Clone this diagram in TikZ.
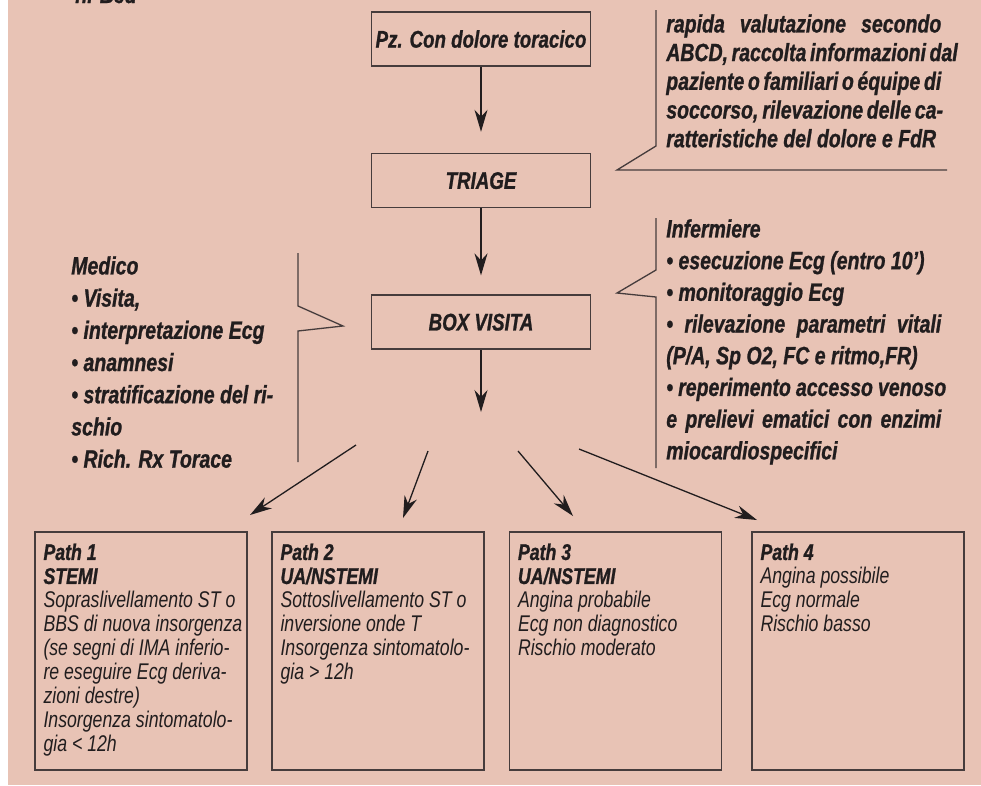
\documentclass[tikz,border=0pt]{standalone}
\usepackage{fontspec}
\setmainfont{Liberation Sans}[FakeStretch=0.78, BoldItalicFeatures={FakeBold=1.0}]
\usetikzlibrary{arrows.meta,positioning}

\definecolor{bgpink}{RGB}{232,195,181}
\definecolor{inkline}{RGB}{70,60,60}
\definecolor{inkdark}{RGB}{33,29,30}
\newcommand{\spreadline}[2][275pt]{\makebox[#1][s]{#2}}

\begin{document}
\begin{tikzpicture}[
    x = 1pt, y = -1pt, % one unit is one pixel, y going down
    > = {Stealth[length=22pt,width=13pt,inset=7pt]}, % arrow head style
    node distance = 86pt, % distance between the flow boxes
    semithick % line style
    ]

    \tikzset{
    flowbox/.style = {draw = inkline, line width = 1.6pt, minimum width = 219pt, minimum height = 54pt, inner sep = 0pt, text = inkdark, font = \fontsize{24}{28}\selectfont\bfseries\itshape},
    pathbox/.style = {draw = inkline, line width = 1.6pt, minimum width = 212pt, minimum height = 238pt, inner sep = 0pt},
    pathtext/.style = {anchor = north west, inner sep = 0pt, align = left, text = inkdark, font = \fontsize{22.7}{24}\selectfont\itshape},
    notetext/.style = {anchor = north west, inner sep = 0pt, align = left, text = inkdark, font = \fontsize{25}{#1}\selectfont\bfseries\itshape},
    notetext/.default = 30,
    noteline/.style = {draw = inkline, line width = 1.3pt},
    fanarrow/.style = {->, draw = inkdark, line width = 1.3pt}
    }

    % page
    \useasboundingbox (0,0) rectangle (981,785);
    \fill[bgpink] (8,0) rectangle (981,785);
    \node[notetext, anchor = base west] (cut) at (75,3) {n. Bed};

    % flow boxes
    \node[flowbox] (pz) at (481,39) {Pz. Con dolore toracico};
    \node[flowbox] (triage) [below=of pz] {TRIAGE};
    \node[flowbox] (visita) [below=of triage] {BOX VISITA};
    \coordinate (split) at (481,412);

    \draw[fanarrow, shorten >=21pt] (pz) -- (triage);
    \draw[fanarrow, shorten >=19pt] (triage) -- (visita);
    \draw[fanarrow] (visita) -- (split);

    % callouts
    \draw[noteline] (656,10) -- (656,146) -- (617,170) -- (947,170);
    \draw[noteline] (656,218) -- (656,270) -- (617,293) -- (656,297) -- (656,468);
    \draw[noteline] (298,253) -- (298,306) -- (343,326) -- (298,331) -- (298,462);

    \node[notetext=28.7] (abcd) at (666,14) {\spreadline{rapida valutazione secondo}\\ \spreadline{ABCD, raccolta informazioni dal}\\ \spreadline{paziente o familiari o équipe di}\\ \spreadline{soccorso, rilevazione delle ca-}\\ ratteristiche del dolore e FdR};
    \node[notetext=31.7] (nurse) at (666,219) {Infermiere\\ \textbullet{} esecuzione Ecg (entro 10’)\\ \textbullet{} monitoraggio Ecg\\ \spreadline{\textbullet{} rilevazione parametri vitali}\\ (P/A, Sp O2, FC e ritmo,FR)\\ \spreadline[280pt]{\textbullet{} reperimento accesso venoso}\\ \spreadline{e prelievi ematici con enzimi}\\ miocardiospecifici};
    \node[notetext=32.2] (doctor) at (71,256) {Medico\\ \textbullet{} Visita,\\ \textbullet{} interpretazione Ecg\\ \textbullet{} anamnesi\\ \textbullet{} stratificazione del ri-\\ schio\\ \textbullet{} Rich. Rx Torace};

    % fan of arrows to the paths
    \coordinate (f1a) at (356,445); \coordinate (f1b) at (250,515);
    \coordinate (f2a) at (428,451); \coordinate (f2b) at (403,518);
    \coordinate (f3a) at (518,451); \coordinate (f3b) at (573,516);
    \coordinate (f4a) at (579,449); \coordinate (f4b) at (757,520);
    \draw[fanarrow] (f1a) -- (f1b);
    \draw[fanarrow] (f2a) -- (f2b);
    \draw[fanarrow] (f3a) -- (f3b);
    \draw[fanarrow] (f4a) -- (f4b);

    % paths
    \node[pathbox] (path1) at (141,651) {};
    \node[pathbox] (path2) at (378,651) {};
    \node[pathbox] (path3) at (615.5,651) {};
    \node[pathbox] (path4) at (858,651) {};

    \node[pathtext] (path1txt) at ([shift={(9,12)}]path1.north west) {\textbf{Path 1}\\ \textbf{STEMI}\\ Sopraslivellamento ST o\\ BBS di nuova insorgenza\\ (se segni di IMA inferio-\\ re eseguire Ecg deriva-\\ zioni destre)\\ Insorgenza sintomatolo-\\ gia < 12h};
    \node[pathtext] (path2txt) at ([shift={(9,12)}]path2.north west) {\textbf{Path 2}\\ \textbf{UA/NSTEMI}\\ Sottoslivellamento ST o\\ inversione onde T\\ Insorgenza sintomatolo-\\ gia > 12h};
    \node[pathtext] (path3txt) at ([shift={(9,12)}]path3.north west) {\textbf{Path 3}\\ \textbf{UA/NSTEMI}\\ Angina probabile\\ Ecg non diagnostico\\ Rischio moderato};
    \node[pathtext] (path4txt) at ([shift={(9,12)}]path4.north west) {\textbf{Path 4}\\ Angina possibile\\ Ecg normale\\ Rischio basso};
\end{tikzpicture}
\end{document}
